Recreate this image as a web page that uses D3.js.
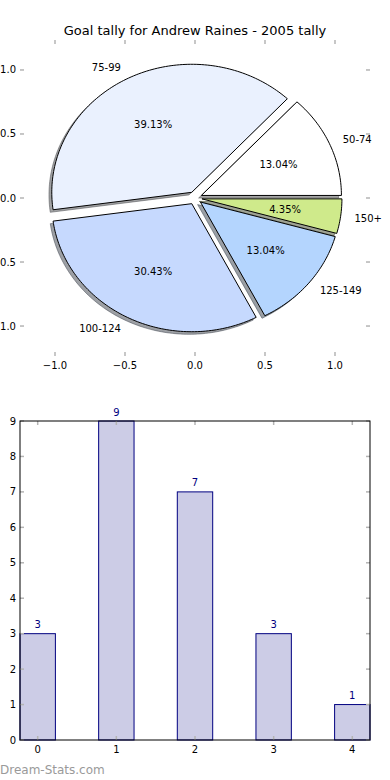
<!DOCTYPE html>
<html><head><meta charset="utf-8">
<script src="https://cdn.jsdelivr.net/npm/d3@7"></script>
<style>
html,body{margin:0;padding:0;background:#fff;}
svg{display:block;font-family:"DejaVu Sans",sans-serif;}
</style></head>
<body><svg id="c" width="390" height="780"></svg>
<script>
const title = "Goal tally for Andrew Raines - 2005 tally";
const pieLabels = ["50-74", "75-99", "100-124", "125-149", "150+"];
const pieValues = [3, 9, 7, 3, 1];
const pieColors = ["#ffffff", "#eaf1fe", "#c6d9fe", "#b4d5fe", "#cfea8b"];
const pieExplode = [0.05, 0.05, 0.05, 0.05, 0.05];
const pieTicks = [-1.0, -0.5, 0.0, 0.5, 1.0];
const barCategories = [0, 1, 2, 3, 4];
const barValues = [3, 9, 7, 3, 1];
const barYTicks = [0, 1, 2, 3, 4, 5, 6, 7, 8, 9];
const watermark = "Dream-Stats.com";

const svg = d3.select("#c");
const tickColor = "#b4b4b4";

// ---------- PIE ----------
const px = d3.scaleLinear().domain([-1.25, 1.25]).range([20, 370]);
const py = d3.scaleLinear().domain([-1.234, 1.234]).range([356, 40]);

svg.append("text").attr("x", 195).attr("y", 30).attr("text-anchor", "middle")
  .attr("dominant-baseline", "central").attr("font-size", 13).attr("fill", "#000").text(title);

const pieGen = d3.pie().sort(null).value(d => d).startAngle(Math.PI / 2).endAngle(Math.PI / 2 - 2 * Math.PI);
const arcs = pieGen(pieValues).map((a, i) => {
  const t1 = Math.PI / 2 - a.startAngle, t2 = Math.PI / 2 - a.endAngle;
  const tm = (t1 + t2) / 2;
  const cx = pieExplode[i] * Math.cos(tm), cy = pieExplode[i] * Math.sin(tm);
  return {i, t1, t2, tm, cx, cy};
});

function wedgePath(a, ox, oy) {
  const n = Math.max(8, Math.ceil((a.t2 - a.t1) / 0.02));
  const pts = [[px(a.cx + ox), py(a.cy + oy)]];
  for (let k = 0; k <= n; k++) {
    const t = a.t1 + (a.t2 - a.t1) * k / n;
    pts.push([px(a.cx + ox + Math.cos(t)), py(a.cy + oy + Math.sin(t))]);
  }
  return d3.line()(pts) + "Z";
}

const gPie = svg.append("g");
// shadows
arcs.forEach(a => {
  const c = d3.rgb(pieColors[a.i]);
  const sc = d3.rgb(c.r * 0.3, c.g * 0.3, c.b * 0.3);
  gPie.append("path").attr("d", wedgePath(a, -0.02, -0.02))
    .attr("fill", sc).attr("fill-opacity", 0.5).attr("stroke", sc).attr("stroke-opacity", 0.5).attr("stroke-width", 1);
});
arcs.forEach(a => {
  gPie.append("path").attr("d", wedgePath(a, 0, 0))
    .attr("fill", pieColors[a.i]).attr("stroke", "#000").attr("stroke-width", 1).attr("stroke-linejoin", "miter");
});
const total = d3.sum(pieValues);
arcs.forEach(a => {
  const lx = a.cx + 1.1 * Math.cos(a.tm), ly = a.cy + 1.1 * Math.sin(a.tm);
  gPie.append("text").attr("x", px(lx)).attr("y", py(ly))
    .attr("text-anchor", lx > 0 ? "start" : "end").attr("dominant-baseline", "central")
    .attr("font-size", 10).text(pieLabels[a.i]);
  const tx = a.cx + 0.6 * Math.cos(a.tm), ty = a.cy + 0.6 * Math.sin(a.tm);
  gPie.append("text").attr("x", px(tx)).attr("y", py(ty))
    .attr("text-anchor", "middle").attr("dominant-baseline", "central")
    .attr("font-size", 10).text((100 * pieValues[a.i] / total).toFixed(2) + "%");
});

// pie ticks (no frame)
const fmt1 = d3.format(".1f");
const minus = s => s.replace("-", "\u2212");
const pt = svg.append("g").attr("stroke", tickColor).attr("stroke-width", 1.5);
pieTicks.forEach(v => {
  pt.append("line").attr("x1", px(v)).attr("x2", px(v)).attr("y1", py.range()[1]).attr("y2", py.range()[1] + 4);
  pt.append("line").attr("x1", px(v)).attr("x2", px(v)).attr("y1", py.range()[0]).attr("y2", py.range()[0] - 4);
  pt.append("line").attr("x1", px.range()[0]).attr("x2", px.range()[0] + 4).attr("y1", py(v)).attr("y2", py(v));
  pt.append("line").attr("x1", px.range()[1]).attr("x2", px.range()[1] - 4).attr("y1", py(v)).attr("y2", py(v));
  svg.append("text").attr("x", px(v)).attr("y", py.range()[0] + 9).attr("text-anchor", "middle")
    .attr("dominant-baseline", "central").attr("font-size", 10).text(minus(fmt1(v)));
  svg.append("text").attr("x", px.range()[0] - 4).attr("y", py(v)).attr("text-anchor", "end")
    .attr("dominant-baseline", "central").attr("font-size", 10).text(minus(fmt1(v)));
});

// ---------- BAR ----------
const bw = 0.45;
const bx = d3.scaleLinear().domain([-bw / 2, barCategories.length - 1 + bw / 2]).range([20, 370]);
const by = d3.scaleLinear().domain([0, 9]).range([740, 421]);
const gBar = svg.append("g");
gBar.selectAll("rect.bar").data(barValues).join("rect").attr("class", "bar")
  .attr("x", (d, i) => bx(barCategories[i] - bw / 2))
  .attr("width", (d, i) => bx(barCategories[i] + bw / 2) - bx(barCategories[i] - bw / 2))
  .attr("y", d => by(d)).attr("height", d => by(0) - by(d))
  .attr("fill", "#cccce6").attr("stroke", "#000080").attr("stroke-width", 1);
gBar.selectAll("text.val").data(barValues).join("text").attr("class", "val")
  .attr("x", (d, i) => bx(barCategories[i])).attr("y", d => by(d) - 9)
  .attr("text-anchor", "middle").attr("dominant-baseline", "central")
  .attr("font-size", 10).attr("fill", "#000080").text(d => d);

const bt = svg.append("g").attr("stroke", tickColor).attr("stroke-width", 1.5);
barCategories.forEach(c => {
  bt.append("line").attr("x1", bx(c)).attr("x2", bx(c)).attr("y1", 421).attr("y2", 425);
  bt.append("line").attr("x1", bx(c)).attr("x2", bx(c)).attr("y1", 740).attr("y2", 736);
  svg.append("text").attr("x", bx(c)).attr("y", 749).attr("text-anchor", "middle")
    .attr("dominant-baseline", "central").attr("font-size", 10).text(c);
});
barYTicks.forEach(v => {
  bt.append("line").attr("x1", 20).attr("x2", 24).attr("y1", by(v)).attr("y2", by(v));
  bt.append("line").attr("x1", 370).attr("x2", 366).attr("y1", by(v)).attr("y2", by(v));
  svg.append("text").attr("x", 16).attr("y", by(v)).attr("text-anchor", "end")
    .attr("dominant-baseline", "central").attr("font-size", 10).text(v);
});
svg.append("rect").attr("x", bx.range()[0]).attr("y", by.range()[1])
  .attr("width", bx.range()[1] - bx.range()[0]).attr("height", by.range()[0] - by.range()[1])
  .attr("fill", "none").attr("stroke", "#000").attr("stroke-width", 1);

svg.append("text").attr("x", 0).attr("y", 770).attr("dominant-baseline", "central")
  .attr("font-size", 12).attr("fill", "#9a9a9a").text(watermark);
</script>
</body></html>
